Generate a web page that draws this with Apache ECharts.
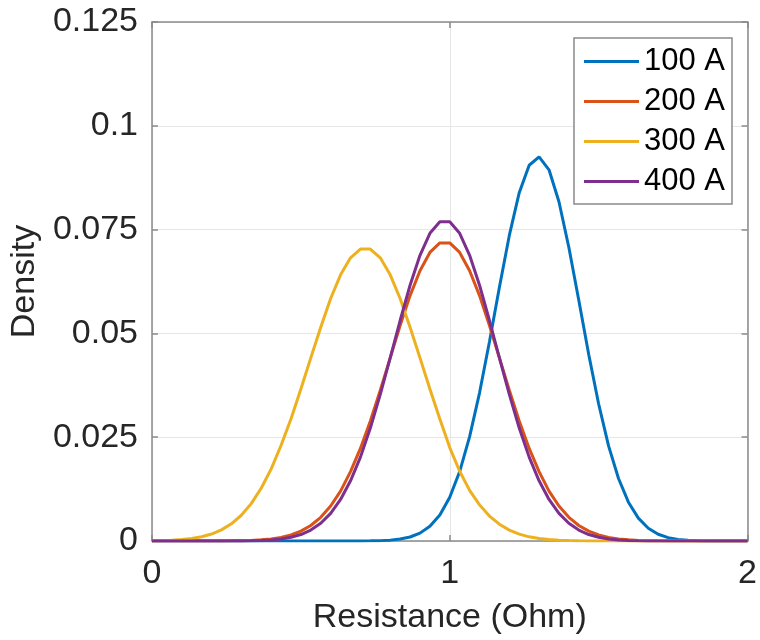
<!DOCTYPE html>
<html>
<head>
<meta charset="utf-8">
<script src="https://cdn.jsdelivr.net/npm/echarts@6/dist/echarts.min.js"></script>
<style>html,body{margin:0;padding:0;background:#fff;}#c{width:760px;height:640px;}</style>
</head>
<body>
<div id="c"></div>
<script>
var resistance = [0,0.0333,0.0667,0.1,0.1333,0.1667,0.2,0.2333,0.2667,0.3,0.3333,0.3667,0.4,0.4333,0.4667,0.5,0.5333,0.5667,0.6,0.6333,0.6667,0.7,0.7333,0.7667,0.8,0.8333,0.8667,0.9,0.9333,0.9667,1,1.0333,1.0667,1.1,1.1333,1.1667,1.2,1.2333,1.2667,1.3,1.3333,1.3667,1.4,1.4333,1.4667,1.5,1.5333,1.5667,1.6,1.6333,1.6667,1.7,1.7333,1.7667,1.8,1.8333,1.8667,1.9,1.9333,1.9667,2];
var seriesNames = ['100 A','200 A','300 A','400 A'];
var density100 = [0,0,0,0,0,0,0,0,0,0,0,0,0,0,0,0,0,0,0,0,0,0.00001,0.00004,0.00009,0.00021,0.00046,0.00096,0.0019,0.00355,0.00628,0.01054,0.01672,0.02512,0.03569,0.048,0.0611,0.0736,0.0839,0.0905,0.0925,0.0894,0.0817,0.0707,0.058,0.0449,0.033,0.0229,0.01505,0.00935,0.0055,0.00306,0.00162,0.00081,0.00038,0.00017,0.00007,0.00003,0.00001,0,0,0];
var density200 = [0,0,0,0,0,0.00001,0.00001,0.00002,0.00004,0.00008,0.00015,0.00028,0.0005,0.00087,0.00146,0.00237,0.00374,0.0057,0.00842,0.012,0.0167,0.0223,0.0289,0.0363,0.0441,0.0519,0.0591,0.0651,0.0695,0.0718,0.0718,0.0695,0.0651,0.0591,0.0519,0.0441,0.0363,0.0289,0.0223,0.0167,0.012,0.00842,0.0057,0.00374,0.00237,0.00146,0.00087,0.0005,0.00028,0.00015,0.00008,0.00004,0.00002,0.00001,0.00001,0,0,0,0,0,0];
var density300 = [0.00005,0.0001,0.00019,0.00034,0.0006,0.00102,0.00168,0.00268,0.00415,0.0062,0.009,0.0127,0.0173,0.023,0.0294,0.0366,0.0441,0.0515,0.0584,0.0641,0.0682,0.0703,0.0703,0.0682,0.0641,0.0584,0.0515,0.0441,0.0366,0.0294,0.0225,0.0168,0.0122,0.0087,0.006,0.00405,0.00262,0.00165,0.001,0.00059,0.00034,0.00019,0.0001,0.00005,0.00003,0.00001,0,0,0,0,0,0,0,0,0,0,0,0,0,0,0];
var density400 = [0,0,0,0,0,0,0,0,0.00001,0.00003,0.00007,0.00013,0.00026,0.00049,0.0009,0.00156,0.00263,0.00426,0.00665,0.01,0.0145,0.0202,0.0272,0.0353,0.0441,0.0531,0.0616,0.0688,0.0741,0.0769,0.0769,0.0741,0.0688,0.0616,0.0531,0.0441,0.0353,0.0272,0.0202,0.0145,0.01,0.00665,0.00426,0.00263,0.00156,0.0009,0.00049,0.00026,0.00013,0.00007,0.00003,0.00001,0,0,0,0,0,0,0,0,0];
var xTicks = [0,1,2];
var yTicks = [0,0.025,0.05,0.075,0.1,0.125];
var colors = ['#0072BD','#D95319','#EDB120','#7E2F8E'];

var allDensity = [density100, density200, density300, density400];
var FONT = 'Liberation Sans, Arial, Helvetica, sans-serif';
var TXT = '#262626';
var AX = '#8a8a8a';
var FS = 34;

function pairs(ys){ return resistance.map(function(x,i){ return [x, ys[i]]; }); }

var chart = echarts.init(document.getElementById('c'), null, {renderer:'canvas'});
var baseX = {type:'value', min:0, max:2, interval:1};
var baseY = {type:'value', min:0, max:0.125, interval:0.025};
chart.setOption({
  backgroundColor:'#fff',
  animation:false,
  color: colors,
  grid:{left:151, right:10, top:22, bottom:98, show:false},
  legend:{
    orient:'vertical', right:28, top:38,
    padding:[8,7,7,10],
    icon:'rect',
    itemWidth:55, itemHeight:3, itemGap:9,
    backgroundColor:'#fff', borderColor:AX, borderWidth:1.5, borderRadius:0,
    textStyle:{fontFamily:FONT, fontSize:31, color:'#000', lineHeight:31},
    data: seriesNames
  },
  xAxis:[
    Object.assign({}, baseX, {
      position:'bottom',
      name:'Resistance (Ohm)', nameLocation:'middle', nameGap:60,
      nameTextStyle:{fontFamily:FONT, fontSize:FS, color:TXT},
      axisLine:{show:true, onZero:false, lineStyle:{color:AX, width:1.5}},
      axisTick:{show:true, inside:true, length:6, lineStyle:{color:AX, width:1.5}},
      axisLabel:{fontFamily:FONT, fontSize:FS, color:TXT, margin:16,
        customValues: xTicks, formatter:function(v){return String(v);}},
      splitLine:{show:true, lineStyle:{color:'#e6e6e6', width:1}}
    }),
    Object.assign({}, baseX, {
      position:'top',
      axisLine:{show:true, onZero:false, lineStyle:{color:AX, width:1.5}},
      axisTick:{show:true, inside:true, length:6, lineStyle:{color:AX, width:1.5}},
      axisLabel:{show:false}, splitLine:{show:false}
    })
  ],
  yAxis:[
    Object.assign({}, baseY, {
      position:'left',
      name:'Density', nameLocation:'middle', nameGap:103,
      nameTextStyle:{fontFamily:FONT, fontSize:FS, color:TXT},
      axisLine:{show:true, onZero:false, lineStyle:{color:AX, width:1.5}},
      axisTick:{show:true, inside:true, length:6, lineStyle:{color:AX, width:1.5}},
      axisLabel:{fontFamily:FONT, fontSize:FS, color:TXT, margin:14,
        customValues: yTicks,
        formatter:function(v){ return String(Math.round(v*1000)/1000); }},
      splitLine:{show:true, lineStyle:{color:'#e6e6e6', width:1}}
    }),
    Object.assign({}, baseY, {
      position:'right',
      axisLine:{show:true, onZero:false, lineStyle:{color:AX, width:1.5}},
      axisTick:{show:true, inside:true, length:6, lineStyle:{color:AX, width:1.5}},
      axisLabel:{show:false}, splitLine:{show:false}
    })
  ],
  series: allDensity.map(function(d,k){
    return {
      name: seriesNames[k], type:'line', data: pairs(d),
      xAxisIndex:0, yAxisIndex:0,
      symbol:'none', smooth:false,
      lineStyle:{color:colors[k], width:3},
      itemStyle:{color:colors[k]}
    };
  })
});
</script>
</body>
</html>
